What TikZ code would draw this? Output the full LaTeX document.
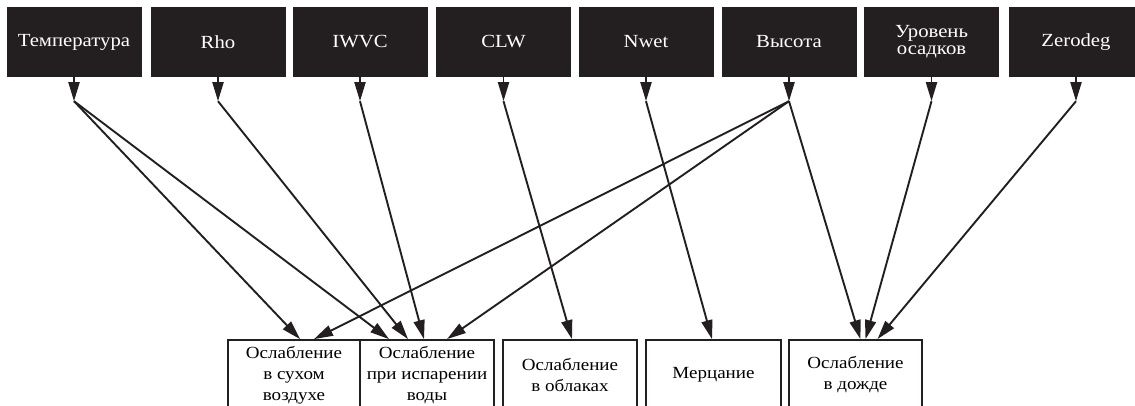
\documentclass[tikz,border=0pt]{standalone}
\usepackage{fontspec}
\setmainfont{Liberation Serif}[FakeStretch=1.12]
\usetikzlibrary{arrows.meta,calc}
\definecolor{ink}{HTML}{231F20}
\begin{document}
\begin{tikzpicture}[x=1pt,y=-1pt,
  topbox/.style={fill=ink,draw=none,text=white,minimum width=135pt,minimum height=70pt,inner sep=0pt,align=center,font=\fontsize{18.5}{17}\selectfont},
  botbox/.style={fill=white,draw=ink,line width=1.8pt,minimum height=70pt,inner sep=0pt,align=center,font=\fontsize{17}{21}\selectfont},
  arr/.style={draw=ink,line width=1.9pt,-{Triangle[length=19pt,width=11pt]}},
  link/.style={draw=ink,line width=1.9pt,-{Triangle[length=19pt,width=11pt]}}]
\useasboundingbox[clip] (0,0) rectangle (1135,405);
\fill[white] (0,0) rectangle (1135,405);
% top nodes
\node[topbox] (t1) at (74,42) {Температура};
\node[topbox] (t2) at (218,42) {Rho};
\node[topbox] (t3) at (360,42) {IWVC};
\node[topbox] (t4) at (503.5,42) {CLW};
\node[topbox] (t5) at (646,42) {Nwet};
\node[topbox] (t6) at (789,42) {Высота};
\node[topbox] (t7) at (931.5,42) {Уровень\\осадков};
\node[topbox] (t8) at (1076,42) {Zerodeg};
% junctions
\foreach \i in {1,...,8} {\coordinate (j\i) at ($(t\i.south)+(0,24)$);}
% bottom nodes
\node[botbox,minimum width=132pt] (a) at (294,375) {Ослабление\\в сухом\\воздухе};
\node[botbox,minimum width=134pt] (b) at (427,375) {Ослабление\\при испарении\\воды};
\node[botbox,minimum width=134pt] (c) at (570,375) {Ослабление\\в облаках};
\node[botbox,minimum width=135pt] (d) at (713.5,375) {Мерцание};
\node[botbox,minimum width=133pt] (e) at (855.5,375) {Ослабление\\в дожде};
% stubs
\foreach \i in {1,...,8} {\draw[arr] (t\i.south) -- (j\i);}
% links
\draw[link] (j1) -- ([xshift=6pt]a.north);
\draw[link] (j1) -- ([xshift=-38pt]b.north);
\draw[link] (j2) -- ([xshift=-19pt]b.north);
\draw[link] (j3) -- ([xshift=-3pt]b.north);
\draw[link] (j4) -- ([xshift=2pt]c.north);
\draw[link] (j5) -- ([xshift=-1.5pt]d.north);
\draw[link] (j6) -- ([xshift=20pt]a.north);
\draw[link] (j6) -- ([xshift=20pt]b.north);
\draw[link] (j6) -- ([xshift=5pt]e.north);
\draw[link] (j7) -- ([xshift=10pt]e.north);
\draw[link] (j8) -- ([xshift=22pt]e.north);
\end{tikzpicture}
\end{document}
